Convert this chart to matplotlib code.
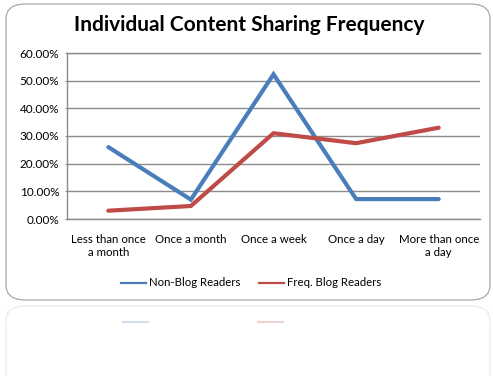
import matplotlib
matplotlib.use("Agg")
import matplotlib.pyplot as plt
from matplotlib.patches import FancyBboxPatch
from matplotlib.lines import Line2D
from matplotlib.ticker import FuncFormatter

categories = ["Less than once\na month", "Once a month", "Once a week",
              "Once a day", "More than once\na day"]
non_blog = [26.0, 7.0, 52.3, 7.2, 7.2]
freq_blog = [3.0, 4.7, 31.0, 27.4, 33.0]
series_names = ["Non-Blog Readers", "Freq. Blog Readers"]
yticks = [0, 10, 20, 30, 40, 50, 60]

BLUE = "#4a7ebb"
RED = "#be4b48"
GRID = "#8c8c8c"
FONT = ["Lato", "DejaVu Sans"]

plt.rcParams["font.family"] = FONT

fig = plt.figure(figsize=(4.93, 3.76), dpi=100)
fig.patch.set_facecolor("white")

# chart frame (rounded, with faint reflection below)
frame = FancyBboxPatch((6 / 493, 1 - 300 / 376), 484 / 493, 296 / 376,
                       boxstyle="round,pad=0,rounding_size=0.04",
                       transform=fig.transFigure, facecolor="white",
                       edgecolor="#b0b0b0", linewidth=1.0, zorder=-2)
fig.patches.append(frame)
refl = FancyBboxPatch((6 / 493, -0.05), 484 / 493, 0.05 + (376 - 306) / 376,
                      boxstyle="round,pad=0,rounding_size=0.04",
                      transform=fig.transFigure, facecolor="white",
                      edgecolor="#ececec", linewidth=1.0, zorder=-2)
fig.patches.append(refl)

ax = fig.add_axes([67 / 493, 1 - 219 / 376, 413 / 493, 166 / 376])
ax.set_zorder(2)
ax.patch.set_alpha(0)
x = list(range(len(categories)))
ax.plot(x, non_blog, color=BLUE, lw=3.0, solid_joinstyle="miter",
        solid_capstyle="round", zorder=3)
ax.plot(x, freq_blog, color=RED, lw=3.0, solid_joinstyle="miter",
        solid_capstyle="round", zorder=3)

ax.set_xlim(-0.5, len(categories) - 0.5)
ax.set_ylim(0, 60)
ax.set_yticks(yticks)
ax.yaxis.set_major_formatter(FuncFormatter(lambda v, _: f"{v:.2f}%"))
ax.set_xticks(x)
ax.set_xticklabels(categories, fontsize=8.3, linespacing=1.2)
ax.tick_params(axis="y", labelsize=8.5, length=1.5, color=GRID, pad=4)
ax.tick_params(axis="x", length=0, pad=11)
ax.grid(axis="y", color=GRID, lw=1.0)
ax.set_axisbelow(True)
ax.spines["right"].set_visible(False)
for side in ["left", "bottom", "top"]:
    ax.spines[side].set_color(GRID)
    ax.spines[side].set_linewidth(1.0)

fig.text(249 / 493, 1 - 25 / 376, "Individual Content Sharing Frequency",
         ha="center", va="center", fontsize=15, fontweight="bold")

handles = [Line2D([], [], color=BLUE, lw=1.6), Line2D([], [], color=RED, lw=1.6)]
fig.legend(handles, series_names, loc="center",
           bbox_to_anchor=(251 / 493, 1 - 283 / 376),
           ncol=2, frameon=False, fontsize=8.2, handlelength=2.2,
           handletextpad=0.2, columnspacing=1.7)

# faint reflected legend lines
for x0, c in [(123, BLUE), (258, RED)]:
    fig.add_artist(Line2D([x0 / 493, (x0 + 25) / 493],
                          [1 - 322 / 376, 1 - 322 / 376],
                          transform=fig.transFigure, color=c, alpha=0.25, lw=1.5))

fig.savefig("out.png", dpi=100, facecolor="white")
